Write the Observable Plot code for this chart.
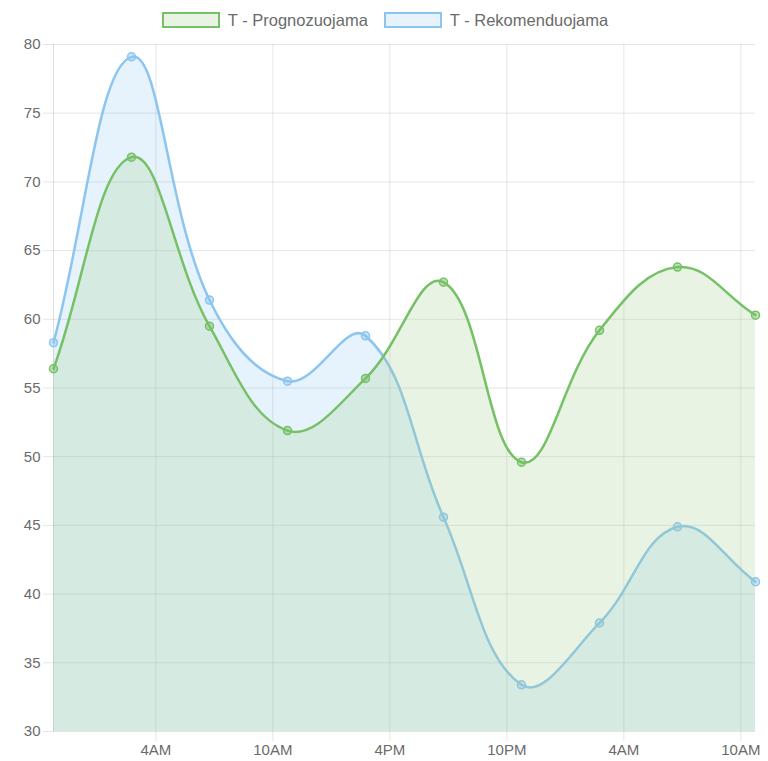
<!DOCTYPE html>
<html>
<head>
<meta charset="utf-8">
<script src="https://cdn.jsdelivr.net/npm/d3@7"></script>
<script src="https://cdn.jsdelivr.net/npm/@observablehq/plot@0.6"></script>
<style>
  body { margin: 0; background: #fff; font-family: "Liberation Sans", Arial, sans-serif; }
  #legend { height: 30px; position: relative; }
  #legend .items { display: flex; justify-content: center; padding-top: 12px; padding-left: 2px; }
  #legend .item { display: flex; align-items: center; margin: 0 8px; }
  #legend .box { width: 58px; height: 16px; box-sizing: border-box; border: 2px solid; margin-right: 8px; }
  #legend .label { font-size: 16.5px; line-height: 16px; color: #6b6b6b; white-space: nowrap; }
</style>
</head>
<body>
<div id="legend"></div>
<div id="chart"></div>
<script>
// ---- data ----
const seriesNames = ["T - Prognozuojama", "T - Rekomenduojama"];
const times = [
  "2018-03-01T22:45Z", "2018-03-02T02:45Z", "2018-03-02T06:45Z", "2018-03-02T10:45Z",
  "2018-03-02T14:45Z", "2018-03-02T18:45Z", "2018-03-02T22:45Z", "2018-03-03T02:45Z",
  "2018-03-03T06:45Z", "2018-03-03T10:45Z"
];
const prognozuojama = [56.4, 71.8, 59.5, 51.9, 55.7, 62.7, 49.6, 59.2, 63.8, 60.3];
const rekomenduojama = [58.3, 79.1, 61.4, 55.5, 58.8, 45.6, 33.4, 37.9, 44.9, 40.9];
const xTickTimes = [
  "2018-03-02T04:00Z", "2018-03-02T10:00Z", "2018-03-02T16:00Z",
  "2018-03-02T22:00Z", "2018-03-03T04:00Z", "2018-03-03T10:00Z"
];
const yTicks = [30, 35, 40, 45, 50, 55, 60, 65, 70, 75, 80];

// ---- styles ----
const greenStroke = "#76c066", greenFill = "rgba(163,207,143,0.25)";
const blueStroke = "#8cc5f0", blueFill = "rgba(100,180,240,0.16)";

const W = 768, H = 731;
const M = {top: 14, right: 13, bottom: 30, left: 53};

// Chart.js-like spline (tension 0.4, capped to chart area)
function chartjsSpline(tension, box) {
  return function(context) {
    let pts = [], line;
    const cap = (x, y) => [Math.max(box.left, Math.min(box.right, x)), Math.max(box.top, Math.min(box.bottom, y))];
    return {
      areaStart() { line = 0; },
      areaEnd() { line = NaN; },
      lineStart() { pts = []; },
      point(x, y) { pts.push([+x, +y]); },
      lineEnd() {
        const n = pts.length;
        if (n) {
          const cp = pts.map((p, i) => {
            const prev = pts[i - 1] || p, next = pts[i + 1] || p;
            const d01 = Math.hypot(p[0] - prev[0], p[1] - prev[1]);
            const d12 = Math.hypot(next[0] - p[0], next[1] - p[1]);
            let s01 = d01 / (d01 + d12), s12 = d12 / (d01 + d12);
            if (isNaN(s01)) s01 = 0;
            if (isNaN(s12)) s12 = 0;
            const fa = tension * s01, fb = tension * s12;
            return {
              prev: cap(p[0] - fa * (next[0] - prev[0]), p[1] - fa * (next[1] - prev[1])),
              next: cap(p[0] + fb * (next[0] - prev[0]), p[1] + fb * (next[1] - prev[1]))
            };
          });
          if (line) context.lineTo(pts[0][0], pts[0][1]);
          else context.moveTo(pts[0][0], pts[0][1]);
          for (let i = 1; i < n; i++) {
            context.bezierCurveTo(cp[i - 1].next[0], cp[i - 1].next[1], cp[i].prev[0], cp[i].prev[1], pts[i][0], pts[i][1]);
          }
        }
        if (line || (line !== 0 && n === 1)) context.closePath();
        line = 1 - line;
      }
    };
  };
}
const curve = chartjsSpline(0.4, {left: M.left, right: W - M.right, top: M.top, bottom: H - M.bottom});

const T = times.map(t => new Date(t));
const green = T.map((t, i) => ({t, v: prognozuojama[i]}));
const blue = T.map((t, i) => ({t, v: rekomenduojama[i]}));
const yMin = yTicks[0];

// ---- legend ----
const legend = document.querySelector("#legend");
const items = document.createElement("div");
items.className = "items";
[[seriesNames[0], greenStroke, greenFill], [seriesNames[1], blueStroke, blueFill]].forEach(([name, s, f]) => {
  const it = document.createElement("div");
  it.className = "item";
  const b = document.createElement("div");
  b.className = "box";
  b.style.borderColor = s;
  b.style.background = f;
  const l = document.createElement("span");
  l.className = "label";
  l.textContent = name;
  it.append(b, l);
  items.append(it);
});
legend.append(items);

// ---- chart ----
const chart = Plot.plot({
  width: W,
  height: H,
  marginTop: M.top,
  marginRight: M.right,
  marginBottom: M.bottom,
  marginLeft: M.left,
  style: {fontSize: "15px", color: "#6b6b6b", fontFamily: "'Liberation Sans', Arial, sans-serif", background: "#fff"},
  x: {type: "utc", domain: [T[0], T[T.length - 1]], ticks: xTickTimes.map(d => new Date(d)),
      tickFormat: d3.utcFormat("%-I%p"), tickSize: 0, tickPadding: 13, label: null},
  y: {domain: [yTicks[0], yTicks[yTicks.length - 1]], ticks: yTicks, tickSize: 0, tickPadding: 13, label: null},
  marks: [
    Plot.ruleY(yTicks, {stroke: "#000", strokeOpacity: 0.1, insetLeft: -10}),
    Plot.ruleX(xTickTimes.map(d => new Date(d)), {stroke: "#000", strokeOpacity: 0.1, insetBottom: -10}),
    Plot.ruleX([T[0]], {stroke: "#000", strokeOpacity: 0.12}),
    // blue (drawn first, below)
    Plot.areaY(blue, {x: "t", y1: () => yMin, y2: "v", fill: blueFill, curve}),
    Plot.line(blue, {x: "t", y: "v", stroke: blueStroke, strokeWidth: 2.5, curve}),
    Plot.dot(blue, {x: "t", y: "v", r: 4, fill: blueStroke, fillOpacity: 0.45, stroke: blueStroke, strokeWidth: 1.5}),
    // green (on top)
    Plot.areaY(green, {x: "t", y1: () => yMin, y2: "v", fill: greenFill, curve}),
    Plot.line(green, {x: "t", y: "v", stroke: greenStroke, strokeWidth: 2.5, curve}),
    Plot.dot(green, {x: "t", y: "v", r: 4, fill: greenStroke, fillOpacity: 0.45, stroke: greenStroke, strokeWidth: 1.5})
  ]
});
document.querySelector("#chart").append(chart);
</script>
</body>
</html>
